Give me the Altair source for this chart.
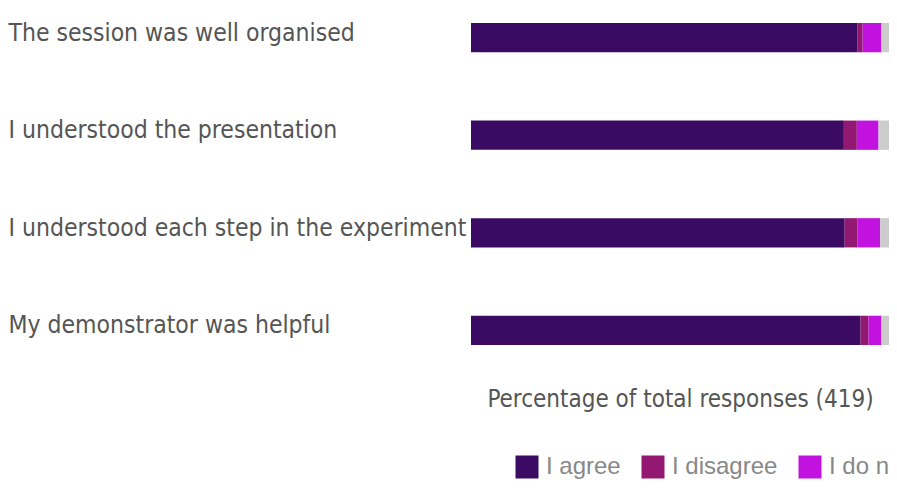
import altair as alt
import pandas as pd

statements = [
    "The session was well organised",
    "I understood the presentation",
    "I understood each step in the experiment",
    "My demonstrator was helpful",
]
responses = ["I agree", "I disagree", "I do not know", "No answer"]
colors = ["#3b0a63", "#921871", "#c212df", "#cccccc"]

agree = [92.5, 89.2, 89.4, 93.2]
disagree = [1.2, 3.1, 3.1, 1.9]
dont_know = [4.5, 5.2, 5.4, 3.1]
no_answer = [1.8, 2.5, 2.1, 1.8]

series = [agree, disagree, dont_know, no_answer]
rows = []
for ri, resp in enumerate(responses):
    for si, st in enumerate(statements):
        rows.append({"statement": st, "response": resp, "order": ri, "pct": series[ri][si]})
df = pd.DataFrame(rows)

label_font = "Liberation Sans Narrow, DejaVu Sans Condensed, sans-serif"

chart = (
    alt.Chart(df)
    .mark_bar()
    .encode(
        y=alt.Y(
            "statement:N",
            sort=statements,
            title=None,
            scale=alt.Scale(paddingInner=0.7, paddingOuter=0),
            axis=alt.Axis(
                domain=False,
                ticks=False,
                labelAlign="left",
                labelPadding=463,
                labelFont=label_font,
                labelFontSize=24.5,
                labelColor="#555555",
                labelLimit=0,
                labelOffset=-4,
            ),
        ),
        x=alt.X(
            "pct:Q",
            stack="zero",
            title="Percentage of total responses (419)",
            scale=alt.Scale(domain=[0, 100], nice=False),
            axis=alt.Axis(
                domain=False,
                ticks=False,
                labels=False,
                grid=False,
                titleFont=label_font,
                titleFontSize=24,
                titleFontWeight="normal",
                titleColor="#555555",
                titlePadding=42,
            ),
        ),
        color=alt.Color(
            "response:N",
            scale=alt.Scale(domain=responses, range=colors),
            legend=alt.Legend(
                title=None,
                orient="none",
                direction="horizontal",
                legendX=44,
                legendY=432,
                symbolType="square",
                symbolSize=529,
                symbolStrokeWidth=0,
                symbolOpacity=1,
                labelFont="Liberation Sans, Arial, sans-serif",
                labelFontSize=24,
                labelColor="#888888",
                labelOffset=7,
                columnPadding=20,
                labelLimit=0,
            ),
        ),
        order=alt.Order("order:Q", sort="ascending"),
    )
    .properties(
        width=418,
        height=322,
        autosize=alt.AutoSizeParams(type="none"),
        padding={"left": 463, "top": 15, "right": 0, "bottom": 141},
    )
    .configure_view(stroke=None)
)

chart.save("out.html", embed_options={"renderer": "svg", "actions": False})
